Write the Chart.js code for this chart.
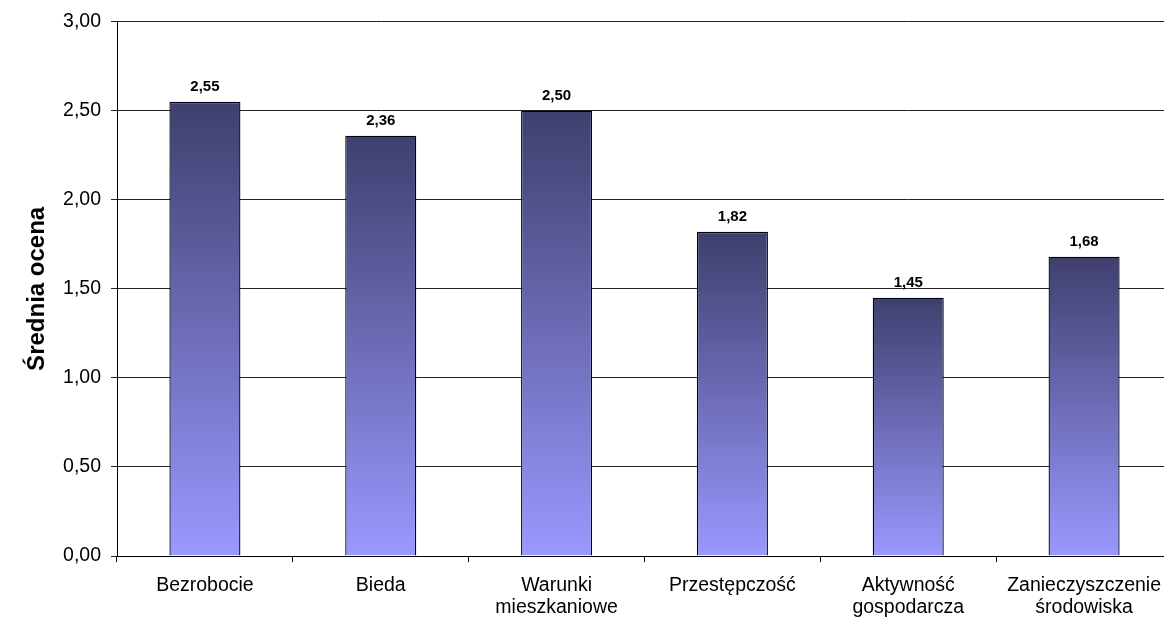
<!DOCTYPE html>
<html>
<head>
<meta charset="utf-8">
<script src="https://cdn.jsdelivr.net/npm/chart.js@4.4.1/dist/chart.umd.min.js"></script>
<style>
  html, body { margin: 0; padding: 0; background: #fff; overflow: hidden; }
  #wrap { position: relative; width: 1180px; height: 618px; }
</style>
</head>
<body>
<div id="wrap"><canvas id="c"></canvas></div>
<script>
const categories = [
  'Bezrobocie',
  'Bieda',
  ['Warunki', 'mieszkaniowe'],
  'Przestępczość',
  ['Aktywność', 'gospodarcza'],
  ['Zanieczyszczenie', 'środowiska']
];
const values = [2.55, 2.36, 2.50, 1.82, 1.45, 1.68];
const yTitle = 'Średnia ocena';
const yMin = 0, yMax = 3, yStep = 0.5;

const fmt = v => Number(v).toFixed(2).replace('.', ',');
const topColor = '#3f3f6e';
const bottomColor = '#9999ff';

const dataLabels = {
  id: 'dataLabels',
  afterDatasetsDraw(chart) {
    const ctx = chart.ctx;
    const meta = chart.getDatasetMeta(0);
    ctx.save();
    ctx.font = 'bold 15px Arial, "Liberation Sans", sans-serif';
    ctx.fillStyle = '#000';
    ctx.textAlign = 'center';
    ctx.textBaseline = 'middle';
    meta.data.forEach((bar, i) => {
      ctx.fillText(fmt(values[i]), bar.x, bar.y - 15);
    });
    ctx.restore();
  }
};

new Chart(document.getElementById('c'), {
  type: 'bar',
  data: {
    labels: categories,
    datasets: [{
      data: values,
      backgroundColor: (c) => {
        const chart = c.chart;
        if (!chart.chartArea || c.type !== 'data') return bottomColor;
        const ys = chart.scales.y;
        const top = ys.getPixelForValue(c.raw);
        const bottom = ys.getPixelForValue(0);
        const g = chart.ctx.createLinearGradient(0, top, 0, bottom);
        g.addColorStop(0, topColor);
        g.addColorStop(1, bottomColor);
        return g;
      },
      borderColor: '#000018',
      borderWidth: 1.3,
      borderSkipped: 'start',
      categoryPercentage: 1,
      barPercentage: 0.404
    }]
  },
  options: {
    responsive: true,
    maintainAspectRatio: false,
    animation: false,
    layout: { padding: { top: 20, right: 8, left: 0, bottom: 0 } },
    plugins: {
      legend: { display: false },
      tooltip: { enabled: false }
    },
    scales: {
      x: {
        offset: true,
        grid: {
          display: true,
          offset: true,
          drawOnChartArea: false,
          drawTicks: true,
          tickLength: 6,
          color: '#000'
        },
        border: { display: true, color: '#000', width: 1 },
        ticks: {
          color: '#000',
          padding: 13,
          maxRotation: 0,
          autoSkip: false,
          font: { family: 'Arial, "Liberation Sans", sans-serif', size: 19.5, lineHeight: 1.13 }
        },
        afterFit: (axis) => { axis.height = 62; }
      },
      y: {
        min: yMin,
        max: yMax,
        grid: {
          color: '#222',
          lineWidth: 1,
          drawTicks: true,
          tickLength: 6
        },
        border: { display: true, color: '#000', width: 1 },
        ticks: {
          stepSize: yStep,
          color: '#000',
          padding: 10,
          callback: (v) => fmt(v),
          font: { family: 'Arial, "Liberation Sans", sans-serif', size: 19.5 }
        },
        title: {
          display: true,
          text: yTitle,
          color: '#000',
          padding: { top: 23, bottom: 0 },
          font: { family: 'Arial, "Liberation Sans", sans-serif', size: 24, weight: 'bold' }
        },
        afterFit: (axis) => { axis.width = 117; }
      }
    }
  },
  plugins: [dataLabels]
});
</script>
</body>
</html>
